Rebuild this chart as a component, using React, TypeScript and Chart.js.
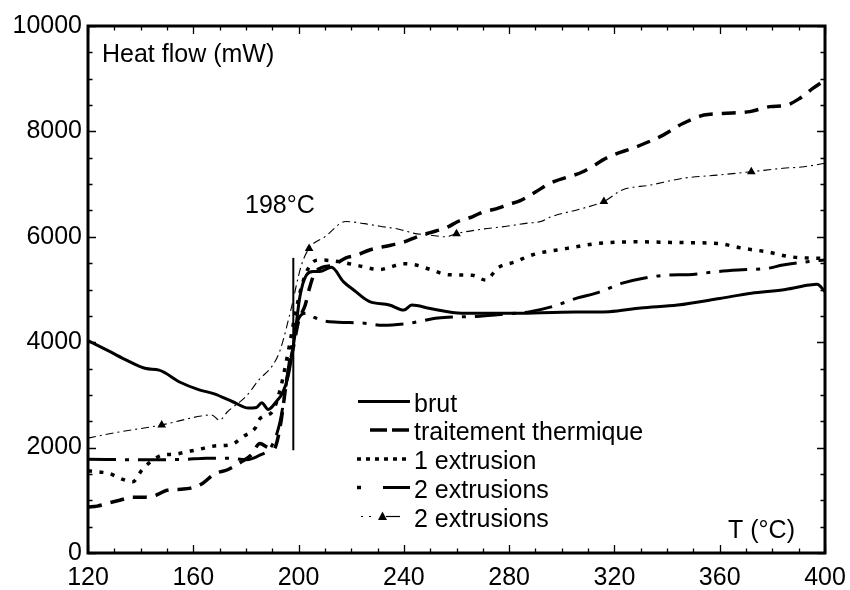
import React, { useEffect, useRef } from "react";
import { Chart, registerables } from "chart.js";

Chart.register(...registerables);

const FONT = '"Liberation Sans", Arial, Helvetica, sans-serif';

// ---------- data ----------
const xTicks = [120, 160, 200, 240, 280, 320, 360, 400];
const yTicks = [0, 2000, 4000, 6000, 8000, 10000];

const legendLabels = ["brut", "traitement thermique", "1 extrusion", "2 extrusions", "2 extrusions"];

const brutT = [120, 128, 135, 142, 147, 155, 162, 168, 175, 181, 184, 186, 188.5, 191.5, 194, 196, 198.5, 200.5, 203, 205.5, 208, 212.5, 217, 222, 225, 227, 234.5, 240, 243, 250, 262, 270, 283, 300, 318, 330, 344, 360, 372, 385, 394, 397, 400];
const brutV = [4030, 3830, 3650, 3500, 3470, 3240, 3100, 3020, 2870, 2750, 2760, 2850, 2725, 2870, 3050, 3345, 4100, 4865, 5275, 5340, 5340, 5420, 5150, 4950, 4830, 4770, 4705, 4610, 4705, 4640, 4550, 4550, 4550, 4570, 4580, 4650, 4705, 4830, 4930, 5000, 5085, 5100, 4960];

const traitT = [120, 123.5, 128, 132, 137, 142, 146, 150, 155.5, 159, 163.5, 168, 173, 178, 182, 185.3, 188, 190.5, 192, 193.5, 195.5, 198, 200, 202.5, 204, 206, 209, 213, 218, 222, 227, 235, 240, 245, 250, 256, 261, 266, 270, 275, 280, 284, 290, 295.5, 308, 318, 328.5, 338.5, 346, 354, 361, 371.5, 379, 385.5, 390.5, 395.5, 400];
const traitV = [870, 890, 950, 1000, 1060, 1060, 1100, 1190, 1210, 1230, 1320, 1500, 1580, 1720, 1860, 2080, 2010, 1960, 2150, 2550, 3280, 3900, 4400, 4700, 5000, 5300, 5420, 5460, 5600, 5650, 5750, 5840, 5900, 6000, 6080, 6170, 6300, 6380, 6470, 6530, 6620, 6680, 6850, 7015, 7235, 7520, 7710, 7930, 8150, 8310, 8340, 8375, 8470, 8500, 8630, 8820, 8975];

const ext1T = [120, 124, 128, 133, 137, 140.5, 144, 148.5, 153, 157.5, 162, 168, 174.5, 179, 183.5, 185.5, 190, 193, 196, 199, 202, 205, 208, 215, 222, 231, 235, 240, 245, 250, 257, 266, 271, 276, 282, 289, 302, 314, 328, 346, 359, 369, 378, 387, 400];
const ext1V = [1560, 1540, 1510, 1400, 1350, 1575, 1740, 1860, 1875, 1920, 1965, 2030, 2060, 2210, 2370, 2560, 2680, 3100, 3800, 4600, 5200, 5500, 5560, 5530, 5460, 5380, 5430, 5490, 5460, 5380, 5280, 5270, 5180, 5420, 5520, 5660, 5780, 5875, 5905, 5890, 5875, 5780, 5715, 5620, 5590];

const ext2aT = [120, 140, 156, 165, 173, 180, 185, 190, 193, 195, 197, 199, 201, 203, 206, 210, 215, 225, 232, 242, 253, 260, 268, 280, 288, 296, 306, 313, 323, 331, 341, 348, 359, 367, 378, 384, 394, 400];
const ext2aV = [1780, 1770, 1775, 1800, 1800, 1770, 1850, 2050, 2500, 3100, 3800, 4300, 4520, 4550, 4470, 4400, 4380, 4360, 4320, 4360, 4460, 4480, 4490, 4540, 4580, 4670, 4840, 4930, 5120, 5215, 5275, 5280, 5340, 5370, 5400, 5465, 5530, 5560];

const ext2bT = [120, 130, 148, 163, 167, 170, 173, 180, 185, 190, 193, 197, 201, 204, 210, 218, 225, 231, 238.5, 243.5, 250, 256, 260, 269, 279, 287, 292, 296, 308, 316, 323, 333.5, 346, 359, 372, 384, 392, 400];
const ext2bV = [2180, 2280, 2430, 2600, 2620, 2520, 2680, 2970, 3290, 3550, 3850, 4600, 5450, 5780, 6000, 6290, 6250, 6200, 6140, 6070, 6030, 6000, 6060, 6140, 6200, 6260, 6290, 6380, 6540, 6670, 6890, 6980, 7110, 7170, 7235, 7300, 7330, 7395];
const ext2bMarkers = [148, 204, 260, 316, 372];

const markerLineT = [198, 198];
const markerLineV = [1950, 5600];

const zip = (t: number[], v: number[]) => t.map((x, i) => ({ x, y: v[i] }));

// ---------- overlay plugin: frame, inward ticks, texts, legend ----------
const overlay = {
  id: "overlay",
  afterDraw(chart: any) {
    const { ctx, chartArea: a } = chart;
    const x = chart.scales.x;
    const y = chart.scales.y;
    ctx.save();
    ctx.strokeStyle = "#000";
    ctx.fillStyle = "#000";
    ctx.setLineDash([]);
    ctx.lineWidth = 1.3;
    ctx.beginPath();
    for (let t = 120; t <= 400; t += 10) {
      const px = Math.round(x.getPixelForValue(t)) + 0.5;
      const len = (t - 120) % 40 === 0 ? 8 : 4.5;
      ctx.moveTo(px, a.bottom);
      ctx.lineTo(px, a.bottom - len);
      ctx.moveTo(px, a.top);
      ctx.lineTo(px, a.top + len);
    }
    for (let v = 0; v <= 10000; v += 500) {
      const py = Math.round(y.getPixelForValue(v)) + 0.5;
      const len = v % 2000 === 0 ? 8 : 4.5;
      ctx.moveTo(a.left, py);
      ctx.lineTo(a.left + len, py);
      ctx.moveTo(a.right, py);
      ctx.lineTo(a.right - len, py);
    }
    ctx.stroke();

    ctx.lineWidth = 3;
    ctx.strokeRect(a.left, a.top, a.right - a.left, a.bottom - a.top);

    ctx.font = `25px ${FONT}`;
    ctx.textBaseline = "alphabetic";
    ctx.textAlign = "left";
    ctx.fillText("Heat flow (mW)", 102, 62);
    ctx.fillText("198°C", 245, 213);
    ctx.textAlign = "right";
    ctx.fillText("T (°C)", 795, 538);

    // legend
    const baselines = [411.5, 440, 469, 497.5, 526.5];
    ctx.textAlign = "left";
    legendLabels.forEach((lab, i) => ctx.fillText(lab, 414, baselines[i]));
    ctx.lineCap = "butt";
    const seg = (x1: number, x2: number, yy: number, w: number, dash: number[] = []) => {
      ctx.setLineDash(dash);
      ctx.lineWidth = w;
      ctx.beginPath();
      ctx.moveTo(x1, yy);
      ctx.lineTo(x2, yy);
      ctx.stroke();
    };
    seg(358, 410, 401.5, 3);
    seg(370, 387, 430, 3.5);
    seg(392, 409, 430, 3.5);
    seg(357, 410, 459, 3.5, [4, 5]);
    seg(357, 361, 487.5, 3.5);
    seg(383, 410, 487.5, 3);
    seg(361, 363, 516.5, 1.2);
    seg(369, 371, 516.5, 1.2);
    seg(386, 400, 516.5, 1.2);
    ctx.setLineDash([]);
    ctx.beginPath();
    ctx.moveTo(382.5, 511.5);
    ctx.lineTo(387, 520);
    ctx.lineTo(378, 520);
    ctx.closePath();
    ctx.fill();
    ctx.restore();
  },
};

export default function App() {
  const ref = useRef<HTMLCanvasElement | null>(null);

  useEffect(() => {
    document.body.style.margin = "0";
    const canvas = ref.current;
    if (!canvas) return;
    const common = {
      borderColor: "#000",
      backgroundColor: "#000",
      fill: false,
      pointRadius: 0,
      cubicInterpolationMode: "monotone" as const,
      borderCapStyle: "butt" as const,
    };
    const chart = new Chart(canvas, {
      type: "line",
      data: {
        datasets: [
          { ...common, label: legendLabels[0], data: zip(brutT, brutV), borderWidth: 3 },
          { ...common, label: legendLabels[1], data: zip(traitT, traitV), borderWidth: 3.5, borderDash: [14, 9] },
          { ...common, label: legendLabels[2], data: zip(ext1T, ext1V), borderWidth: 3.5, borderDash: [4, 7.5] },
          { ...common, label: legendLabels[3], data: zip(ext2aT, ext2aV), borderWidth: 3, borderDash: [28, 9, 4, 9] },
          {
            ...common,
            label: legendLabels[4],
            data: zip(ext2bT, ext2bV),
            borderWidth: 1.1,
            borderDash: [8, 4, 2, 4],
            pointStyle: "triangle",
            pointRadius: (c: any) => (ext2bMarkers.includes(c.raw?.x) ? 5 : 0),
            pointBorderWidth: 0,
          },
          { ...common, label: "198", data: zip(markerLineT, markerLineV), borderWidth: 2 },
        ],
      },
      options: {
        animation: false,
        responsive: false,
        devicePixelRatio: 1,
        parsing: false as any,
        layout: { padding: { left: 0, right: 25, top: 26, bottom: 0 } },
        plugins: { legend: { display: false }, tooltip: { enabled: false } },
        scales: {
          x: {
            type: "linear",
            min: 120,
            max: 400,
            afterBuildTicks: (s: any) => {
              s.ticks = xTicks.map((value) => ({ value }));
            },
            afterFit: (s: any) => {
              s.height = 37;
              s.paddingLeft = 0;
              s.paddingRight = 0;
            },
            grid: { display: false, drawTicks: false },
            border: { display: false },
            ticks: {
              color: "#000",
              font: { family: FONT, size: 25 },
              padding: 10,
              maxRotation: 0,
              autoSkip: false,
              callback: (v: any) => String(v),
            },
          },
          y: {
            type: "linear",
            min: 0,
            max: 10000,
            afterBuildTicks: (s: any) => {
              s.ticks = yTicks.map((value) => ({ value }));
            },
            afterFit: (s: any) => {
              s.width = 88;
              s.paddingTop = 0;
              s.paddingBottom = 0;
            },
            grid: { display: false, drawTicks: false },
            border: { display: false },
            ticks: {
              color: "#000",
              font: { family: FONT, size: 25 },
              padding: 6,
              autoSkip: false,
              callback: (v: any) => String(v),
            },
          },
        },
      },
      plugins: [overlay],
    });
    return () => chart.destroy();
  }, []);

  return (
    <div style={{ width: 850, height: 590, background: "#fff" }}>
      <canvas ref={ref} width={850} height={590} style={{ display: "block" }} />
    </div>
  );
}
